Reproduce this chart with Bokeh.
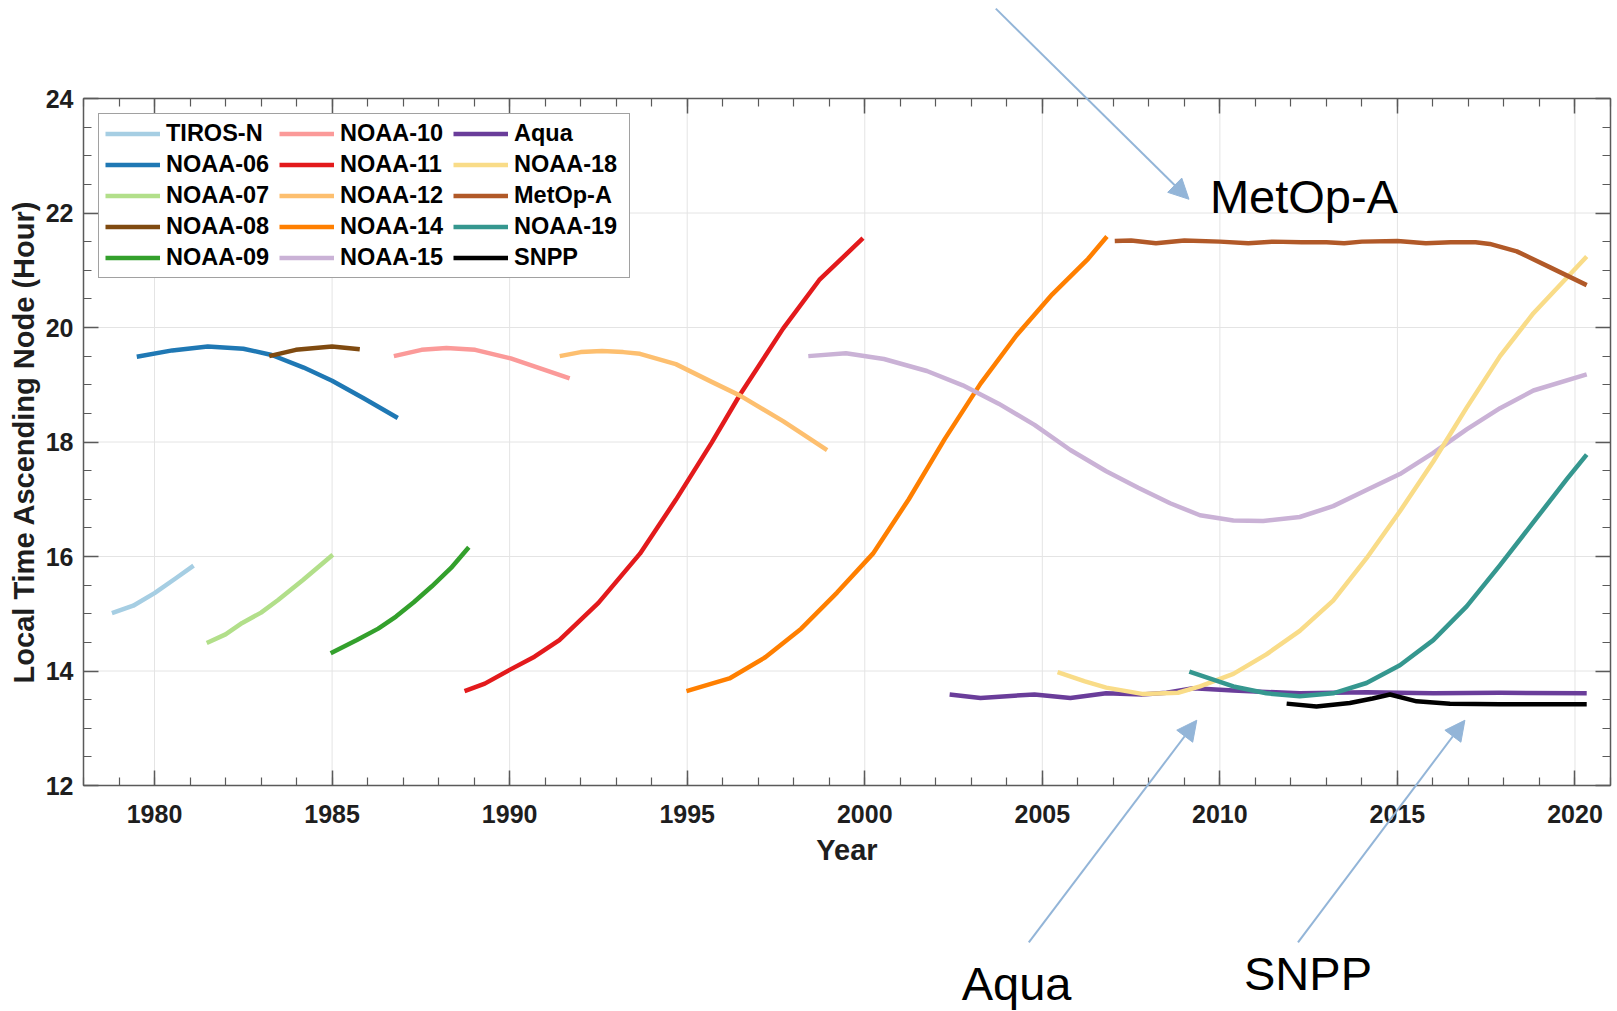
import math
from bokeh.plotting import figure
from bokeh.models import (Legend, LegendItem, LinearAxis, SingleIntervalTicker,
                          Arrow, NormalHead, Label, Range1d, CustomJSTickFormatter)
from bokeh.embed import file_html
from bokeh.resources import INLINE

# ---------------- data ----------------
names = ["TIROS-N", "NOAA-06", "NOAA-07", "NOAA-08", "NOAA-09",
         "NOAA-10", "NOAA-11", "NOAA-12", "NOAA-14", "NOAA-15",
         "Aqua", "NOAA-18", "MetOp-A", "NOAA-19", "SNPP"]
colors = ["#a6cee3", "#1f78b4", "#b2df8a", "#7f4a10", "#33a02c",
          "#fb9a99", "#e31a1c", "#fdbf6f", "#ff7f00", "#cab2d6",
          "#6a3d9a", "#f9dc88", "#b15928", "#35978f", "#000000"]

tiros_n_year = [1978.8, 1979.4, 1980.0, 1980.6, 1981.1]
tiros_n_hour = [15.01, 15.14, 15.36, 15.62, 15.84]

noaa06_year = [1979.5, 1980.5, 1981.5, 1982.5, 1983.3, 1984.2, 1985.0, 1985.9, 1986.85]
noaa06_hour = [19.49, 19.60, 19.67, 19.63, 19.52, 19.30, 19.07, 18.76, 18.42]

noaa07_year = [1981.47, 1982.0, 1982.47, 1983.0, 1983.48, 1984.18, 1985.02]
noaa07_hour = [14.49, 14.64, 14.84, 15.02, 15.24, 15.59, 16.03]

noaa08_year = [1983.23, 1983.98, 1985.0, 1985.78]
noaa08_hour = [19.50, 19.61, 19.67, 19.62]

noaa09_year = [1984.96, 1985.7, 1986.3, 1986.8, 1987.3, 1987.81, 1988.35, 1988.85]
noaa09_hour = [14.31, 14.54, 14.74, 14.95, 15.20, 15.48, 15.80, 16.16]

noaa10_year = [1986.74, 1987.52, 1988.22, 1989.03, 1990.03, 1990.84, 1991.69]
noaa10_hour = [19.50, 19.61, 19.64, 19.61, 19.46, 19.29, 19.11]

noaa11_year = [1988.73, 1989.3, 1990.0, 1990.7, 1991.4, 1992.5, 1993.67, 1994.68,
               1995.69, 1996.49, 1997.7, 1998.72, 1999.95]
noaa11_hour = [13.65, 13.78, 14.02, 14.25, 14.54, 15.19, 16.05, 16.99,
               17.99, 18.83, 19.98, 20.83, 21.56]

noaa12_year = [1991.41, 1992.0, 1992.6, 1993.2, 1993.67, 1994.68, 1995.69,
               1996.49, 1997.71, 1998.94]
noaa12_hour = [19.50, 19.57, 19.59, 19.57, 19.54, 19.36, 19.05,
               18.81, 18.36, 17.86]

noaa14_year = [1994.98, 1996.19, 1997.2, 1998.21, 1999.22, 2000.23, 2001.24,
               2002.25, 2003.26, 2004.27, 2005.28, 2006.29, 2006.82]
noaa14_hour = [13.65, 13.87, 14.24, 14.74, 15.37, 16.05, 17.00,
               18.05, 19.02, 19.86, 20.58, 21.20, 21.59]

noaa15_year = [1998.41, 1999.47, 2000.54, 2001.75, 2002.76, 2003.77, 2004.78,
               2005.79, 2006.8, 2007.7, 2008.6, 2009.44, 2010.38, 2011.22,
               2012.25, 2013.19, 2014.13, 2015.07, 2016.01, 2016.95, 2017.89,
               2018.83, 2020.33]
noaa15_hour = [19.50, 19.55, 19.45, 19.24, 18.99, 18.67, 18.30,
               17.86, 17.49, 17.20, 16.93, 16.72, 16.63, 16.62,
               16.69, 16.88, 17.16, 17.44, 17.81, 18.22, 18.59,
               18.90, 19.18]

aqua_year = [2002.39, 2003.26, 2004.0, 2004.78, 2005.79, 2006.8, 2007.81,
             2008.5, 2009.25, 2010.38, 2012.25, 2014.13, 2016.01, 2017.89, 2020.33]
aqua_hour = [13.59, 13.53, 13.56, 13.59, 13.53, 13.61, 13.59,
             13.62, 13.70, 13.66, 13.61, 13.63, 13.61, 13.62, 13.61]

noaa18_year = [2005.43, 2006.2, 2006.8, 2007.81, 2008.82, 2009.44, 2010.38,
               2011.31, 2012.25, 2013.19, 2014.13, 2015.07, 2016.01, 2016.95,
               2017.89, 2018.83, 2019.77, 2020.33]
noaa18_hour = [13.98, 13.82, 13.71, 13.60, 13.62, 13.73, 13.95,
               14.29, 14.70, 15.23, 15.97, 16.79, 17.66, 18.60,
               19.50, 20.25, 20.87, 21.24]

metopa_year = [2007.04, 2007.5, 2008.2, 2009.0, 2010.0, 2010.8, 2011.5, 2012.3,
               2013.0, 2013.5, 2014.0, 2015.0, 2015.8, 2016.5, 2017.2, 2017.6,
               2018.36, 2019.3, 2020.33]
metopa_hour = [21.51, 21.52, 21.47, 21.52, 21.50, 21.47, 21.50, 21.49,
               21.49, 21.47, 21.50, 21.51, 21.47, 21.49, 21.49, 21.46,
               21.33, 21.05, 20.74]

noaa19_year = [2009.14, 2010.38, 2011.31, 2012.25, 2013.19, 2014.13, 2015.07,
               2016.01, 2016.95, 2017.89, 2018.83, 2019.77, 2020.33]
noaa19_hour = [13.99, 13.73, 13.61, 13.56, 13.61, 13.79, 14.10,
               14.54, 15.13, 15.85, 16.60, 17.35, 17.78]

snpp_year = [2011.88, 2012.72, 2013.66, 2014.3, 2014.79, 2015.54, 2016.48, 2017.89, 2020.33]
snpp_hour = [13.43, 13.38, 13.44, 13.52, 13.59, 13.47, 13.43, 13.42, 13.42]

series_years = [tiros_n_year, noaa06_year, noaa07_year, noaa08_year, noaa09_year,
                noaa10_year, noaa11_year, noaa12_year, noaa14_year, noaa15_year,
                aqua_year, noaa18_year, metopa_year, noaa19_year, snpp_year]
series_hours = [tiros_n_hour, noaa06_hour, noaa07_hour, noaa08_hour, noaa09_hour,
                noaa10_hour, noaa11_hour, noaa12_hour, noaa14_hour, noaa15_hour,
                aqua_hour, noaa18_hour, metopa_hour, noaa19_hour, snpp_hour]

x_limits = (1978, 2021)
y_limits = (12, 24)
x_major = list(range(1980, 2021, 5))
y_major = list(range(12, 25, 2))
x_title = "Year"
y_title = "Local Time Ascending Node (Hour)"

# ---------------- layout (pixels of the axes box inside the canvas) ----------------
W, H = 1617, 1011
BOX_LEFT, BOX_RIGHT = 83, 1610
BOX_TOP, BOX_BOTTOM = 98, 785
px_per_year = (BOX_RIGHT - BOX_LEFT) / (x_limits[1] - x_limits[0])
px_per_hour = (BOX_BOTTOM - BOX_TOP) / (y_limits[1] - y_limits[0])
x_view = (x_limits[0] - BOX_LEFT / px_per_year,
          x_limits[1] + (W - BOX_RIGHT) / px_per_year)
y_view = (y_limits[0] - (H - BOX_BOTTOM) / px_per_hour,
          y_limits[1] + BOX_TOP / px_per_hour)


def px_x(px):
    return x_view[0] + px / px_per_year


def px_y(py):
    return y_view[1] - py / px_per_hour


# annotation positions (data units)
metop_arrow = (2003.69, 25.57, 2009.13, 22.24)
aqua_arrow = (2004.62, 9.26, 2009.35, 13.14)
snpp_arrow = (2012.2, 9.26, 2016.9, 13.14)
metop_label = (2009.72, 22.29)
aqua_label = (2002.73, 8.54)
snpp_label = (2010.68, 8.72)

FONT = "Liberation Sans"
AXC = "#5a5a5a"
ARROW_C = "#93b5d8"
TXT = "#1e1e1e"

p = figure(width=W, height=H, output_backend="svg", toolbar_location=None,
           x_range=Range1d(*x_view), y_range=Range1d(*y_view),
           x_axis_location=None, y_axis_location=None,
           min_border_left=0, min_border_right=0,
           min_border_top=0, min_border_bottom=0,
           background_fill_color="white", border_fill_color="white")
p.outline_line_color = None
p.xgrid.visible = False
p.ygrid.visible = False

xt = SingleIntervalTicker(interval=5, num_minor_ticks=5)
yt = SingleIntervalTicker(interval=2, num_minor_ticks=4)

# grid lines restricted to the axes box
GRID_C = "#e4e4e4"
p.segment(x0=x_major, y0=[y_limits[0]] * len(x_major),
          x1=x_major, y1=[y_limits[1]] * len(x_major),
          line_color=GRID_C, line_width=1)
p.segment(x0=[x_limits[0]] * len(y_major), y0=y_major,
          x1=[x_limits[1]] * len(y_major), y1=y_major,
          line_color=GRID_C, line_width=1)


def style_axis(ax):
    ax.axis_line_color = AXC
    ax.axis_line_width = 1.5
    ax.major_tick_in = 15
    ax.major_tick_out = 0
    ax.minor_tick_in = 8
    ax.minor_tick_out = 0
    ax.major_tick_line_color = AXC
    ax.minor_tick_line_color = AXC
    ax.major_tick_line_width = 1.5
    ax.minor_tick_line_width = 1.2
    ax.major_label_text_font = FONT
    ax.major_label_text_font_style = "bold"
    ax.major_label_text_font_size = "25px"
    ax.major_label_text_color = TXT


blank = CustomJSTickFormatter(code="return ''")

x_bottom = LinearAxis(ticker=xt, bounds=x_limits, fixed_location=y_limits[0])
x_bottom.major_label_standoff = 19
x_top = LinearAxis(ticker=xt, bounds=x_limits, fixed_location=y_limits[1],
                   formatter=blank)
y_left = LinearAxis(ticker=yt, bounds=y_limits, fixed_location=x_limits[0])
y_left.major_label_standoff = 10
y_right = LinearAxis(ticker=yt, bounds=y_limits, fixed_location=x_limits[1],
                     formatter=blank)
for ax in (x_bottom, x_top, y_left, y_right):
    style_axis(ax)
for ax in (x_top, y_right):
    ax.major_label_standoff = 0
p.add_layout(x_bottom, "below")
p.add_layout(x_top, "above")
p.add_layout(y_left, "left")
p.add_layout(y_right, "right")

# axis titles
p.add_layout(Label(x=px_x((BOX_LEFT + BOX_RIGHT) / 2), y=px_y(849), text=x_title,
                   text_font=FONT, text_font_style="bold", text_font_size="29px",
                   text_color=TXT, text_align="center", text_baseline="middle"))
p.add_layout(Label(x=px_x(23), y=px_y((BOX_TOP + BOX_BOTTOM) / 2), text=y_title,
                   angle=math.pi / 2, angle_units="rad",
                   text_font=FONT, text_font_style="bold", text_font_size="29px",
                   text_color=TXT, text_align="center", text_baseline="middle"))

items = []
for name, col, xs, ys in zip(names, colors, series_years, series_hours):
    r = p.line(xs, ys, line_color=col, line_width=4.5, line_join="round")
    items.append(LegendItem(label=name, renderers=[r]))

legend = Legend(items=items, ncols=3, location=(98, H - 278),
                padding=6, spacing=4, glyph_width=55, glyph_height=27,
                label_height=27, label_width=109, label_standoff=6,
                label_text_font=FONT, label_text_font_style="bold",
                label_text_font_size="23.5px", label_text_color="#000000",
                border_line_color="#444444", border_line_width=1.2,
                background_fill_color="white", background_fill_alpha=1)
p.add_layout(legend)

for (x0, y0, x1, y1) in (metop_arrow, aqua_arrow, snpp_arrow):
    p.add_layout(Arrow(x_start=x0, y_start=y0, x_end=x1, y_end=y1,
                       line_color=ARROW_C, line_width=2,
                       end=NormalHead(size=20, fill_color=ARROW_C,
                                      line_color=ARROW_C)))

for txt, (lx, ly) in (("MetOp-A", metop_label), ("Aqua", aqua_label),
                      ("SNPP", snpp_label)):
    p.add_layout(Label(x=lx, y=ly, text=txt, text_font=FONT,
                       text_font_size="47px", text_color="#000000",
                       text_baseline="middle", text_align="left"))

open("out.html", "w").write(file_html(p, INLINE))
